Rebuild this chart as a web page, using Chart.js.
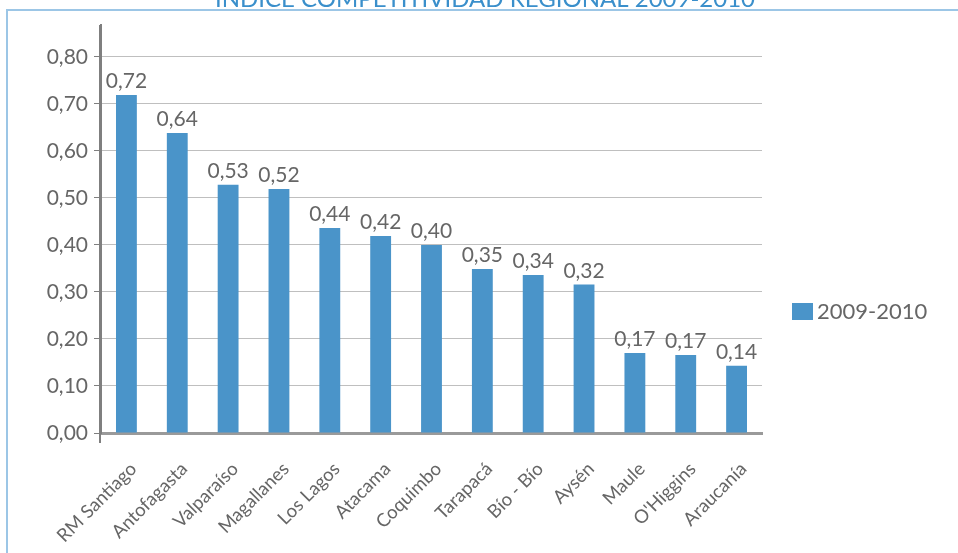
<!DOCTYPE html>
<html>
<head>
<meta charset="utf-8">
<script src="https://cdn.jsdelivr.net/npm/chart.js@4.4.1/dist/chart.umd.min.js"></script>
<style>
  html, body { margin: 0; padding: 0; background: #ffffff; }
  #wrap { position: relative; width: 958px; height: 553px; }
</style>
</head>
<body>
<div id="wrap"><canvas id="c" width="958" height="553"></canvas></div>
<script>
const chartTitle = 'ÍNDICE COMPETITIVIDAD REGIONAL 2009-2010';
const seriesName = '2009-2010';
const regions = ['RM Santiago', 'Antofagasta', 'Valparaíso', 'Magallanes', 'Los Lagos', 'Atacama', 'Coquimbo', 'Tarapacá', 'Bío - Bío', 'Aysén', 'Maule', "O'Higgins", 'Araucanía'];
const indexValues = [0.719, 0.638, 0.528, 0.519, 0.436, 0.419, 0.400, 0.349, 0.336, 0.316, 0.170, 0.166, 0.143];
const yTicks = [0, 0.1, 0.2, 0.3, 0.4, 0.5, 0.6, 0.7, 0.8];

const FONT = 'Lato, "Open Sans", "DejaVu Sans", sans-serif';
const TEXT = '#666666';
const BAR = '#4a94c9';
const fmt = v => v.toFixed(2).replace('.', ',');

const decor = {
  id: 'decor',
  beforeDraw(chart) {
    const ctx = chart.ctx;
    ctx.save();
    ctx.fillStyle = '#ffffff';
    ctx.fillRect(0, 0, chart.width, chart.height);
    // frame
    ctx.strokeStyle = '#9cc6e6';
    ctx.lineWidth = 2;
    ctx.beginPath();
    ctx.moveTo(7, chart.height + 2);
    ctx.lineTo(7, 10);
    ctx.lineTo(chart.width + 2, 10);
    ctx.stroke();
    // clipped title
    ctx.fillStyle = '#3a8fcb';
    ctx.font = '24px ' + FONT;
    ctx.textAlign = 'center';
    ctx.textBaseline = 'alphabetic';
    ctx.fillText(chartTitle, 485, 7);
    ctx.restore();
  },
  afterDraw(chart) {
    const ctx = chart.ctx;
    const ca = chart.chartArea;
    const ds = chart.data.datasets[0];
    ctx.save();
    // y axis line extension below x axis
    ctx.strokeStyle = '#7f7f7f';
    ctx.lineWidth = 2;
    ctx.beginPath();
    ctx.moveTo(ca.left - 1, ca.top);
    ctx.lineTo(ca.left - 1, ca.bottom + 10);
    ctx.stroke();
    // data labels
    const meta = chart.getDatasetMeta(0);
    ctx.fillStyle = TEXT;
    ctx.font = '21px ' + FONT;
    ctx.textAlign = 'center';
    ctx.textBaseline = 'bottom';
    meta.data.forEach((bar, i) => {
      ctx.fillText(fmt(ds.data[i]), bar.x, bar.y - 3);
    });
    // legend
    ctx.fillStyle = ds.backgroundColor;
    ctx.fillRect(792, 303, 21, 17);
    ctx.fillStyle = TEXT;
    ctx.font = '22px ' + FONT;
    ctx.textAlign = 'left';
    ctx.textBaseline = 'middle';
    ctx.fillText(ds.label, 817, 312);
    ctx.restore();
  }
};

new Chart(document.getElementById('c'), {
  type: 'bar',
  data: {
    labels: regions,
    datasets: [{
      label: seriesName,
      data: indexValues,
      backgroundColor: BAR,
      borderWidth: 0,
      categoryPercentage: 1,
      barPercentage: 0.41
    }]
  },
  options: {
    responsive: false,
    animation: false,
    events: [],
    layout: { padding: { top: 25, right: 196, left: 0, bottom: 0 } },
    plugins: {
      legend: { display: false },
      title: { display: false },
      tooltip: { enabled: false }
    },
    scales: {
      x: {
        offset: true,
        grid: { display: false, drawTicks: false },
        border: { display: true, color: '#9a9a9a', width: 3 },
        ticks: {
          color: TEXT,
          font: { family: FONT, size: 18.5 },
          minRotation: 45,
          maxRotation: 45,
          autoSkip: false,
          padding: 25,
          labelOffset: 7
        },
        afterFit(scale) { scale.height = 120; }
      },
      y: {
        min: 0,
        max: 0.868,
        grid: { color: '#bfbfbf', lineWidth: 1, tickColor: '#7f7f7f', tickLength: 7 },
        border: { display: true, color: '#7f7f7f', width: 2 },
        afterBuildTicks(axis) {
          axis.ticks = yTicks.map(v => ({ value: v }));
        },
        ticks: {
          color: TEXT,
          font: { family: FONT, size: 21 },
          padding: 6,
          callback: v => fmt(v)
        },
        afterFit(scale) { scale.width = 101; }
      }
    }
  },
  plugins: [decor]
});
</script>
</body>
</html>
